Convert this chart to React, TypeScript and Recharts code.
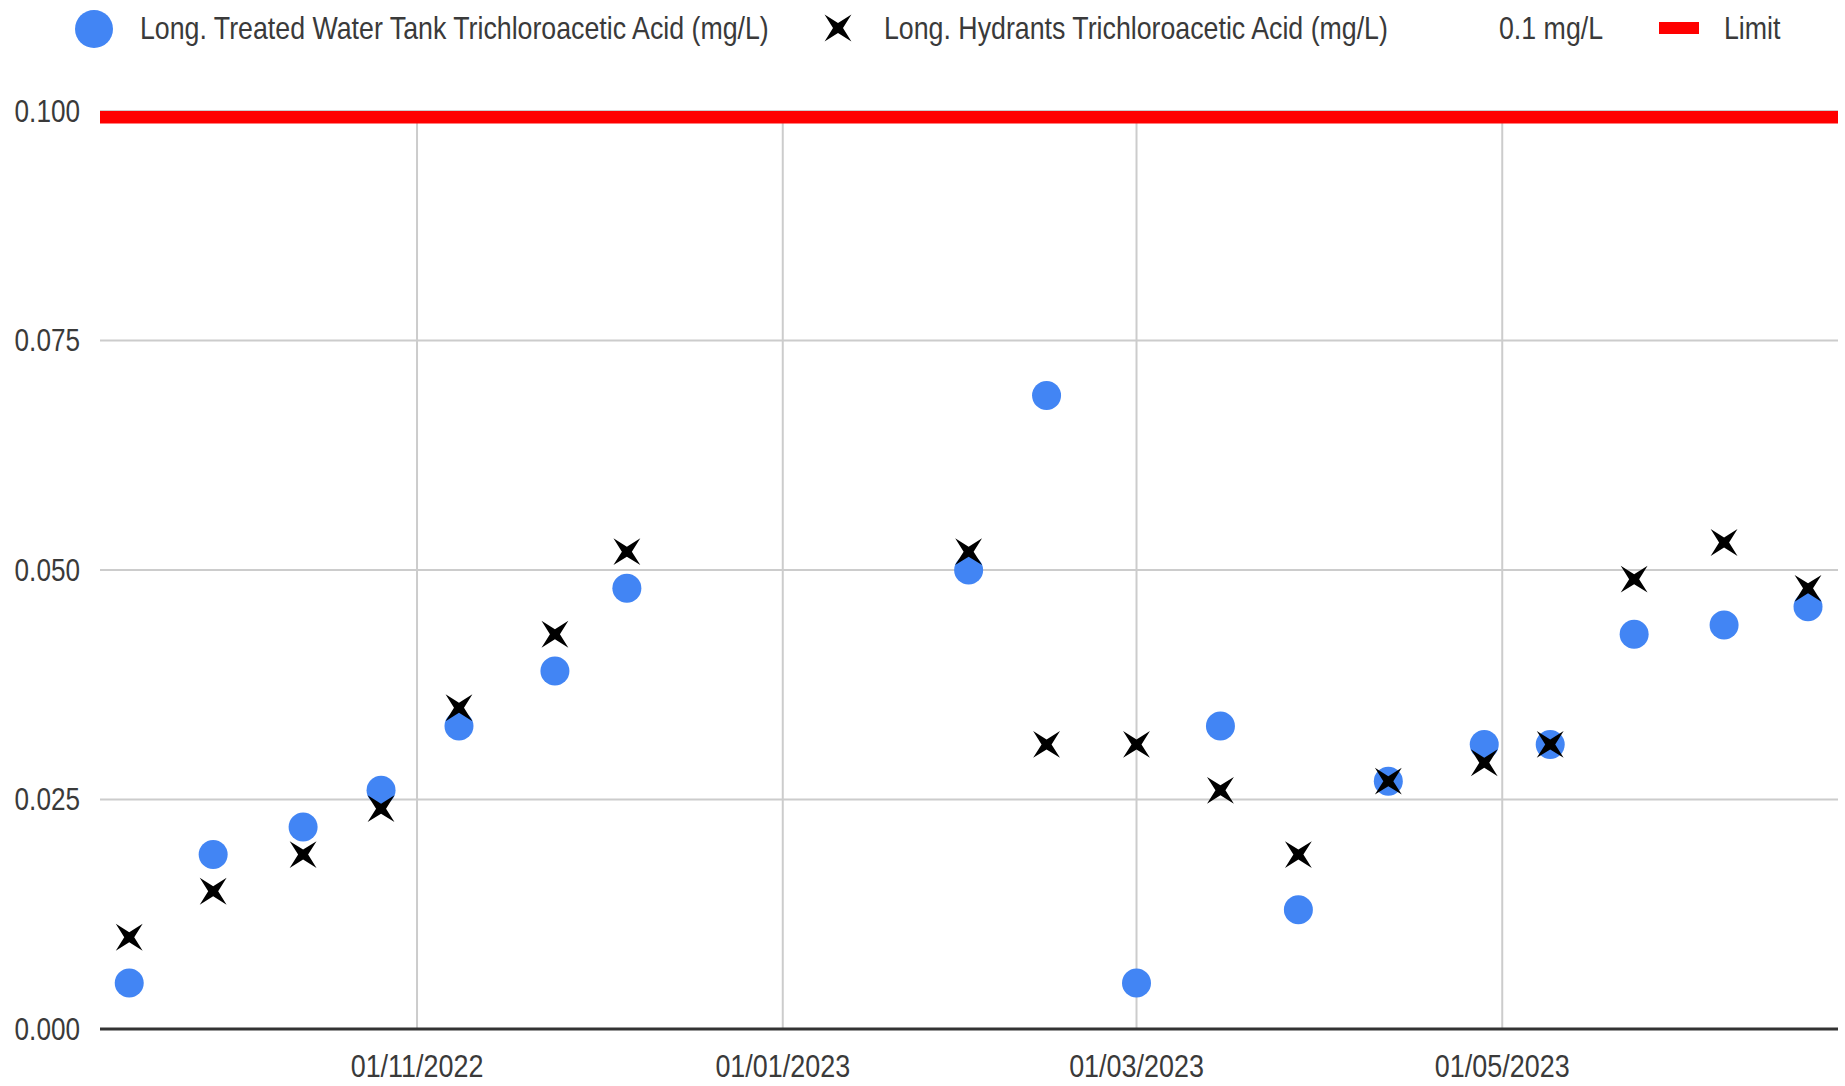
import React from 'react';
import {
  ComposedChart,
  Scatter,
  XAxis,
  YAxis,
  CartesianGrid,
  ReferenceLine,
  Legend,
} from 'recharts';

// ---- data ----
const SAMPLE_DATES = [
  '2022-09-14', '2022-09-28', '2022-10-13', '2022-10-26', '2022-11-08', '2022-11-24',
  '2022-12-06', '2023-02-01', '2023-02-14', '2023-03-01', '2023-03-15', '2023-03-28',
  '2023-04-12', '2023-04-28', '2023-05-09', '2023-05-23', '2023-06-07', '2023-06-21',
];
const TANK_TCA = [
  0.005, 0.019, 0.022, 0.026, 0.033, 0.039, 0.048, 0.05, 0.069, 0.005, 0.033, 0.013,
  0.027, 0.031, 0.031, 0.043, 0.044, 0.046,
];
const HYDRANT_TCA = [
  0.01, 0.015, 0.019, 0.024, 0.035, 0.043, 0.052, 0.052, 0.031, 0.031, 0.026, 0.019,
  0.027, 0.029, 0.031, 0.049, 0.053, 0.048,
];
const LIMIT_VALUE = 0.1;
const SERIES_NAMES = [
  'Long. Treated Water Tank Trichloroacetic Acid (mg/L)',
  'Long. Hydrants Trichloroacetic Acid (mg/L)',
  '0.1 mg/L',
  'Limit',
];
const X_TICK_DATES = ['2022-11-01', '2023-01-01', '2023-03-01', '2023-05-01'];
const Y_TICKS = [0, 0.025, 0.05, 0.075, 0.1];
const X_DOMAIN_DATES = ['2022-09-09T03:00:00Z', '2023-06-26T00:00:00Z'];

const toMs = (d: string) => new Date(d.length === 10 ? d + 'T00:00:00Z' : d).getTime();

const tankData = SAMPLE_DATES.map((d, i) => ({ t: toMs(d), v: TANK_TCA[i] }));
const hydrantData = SAMPLE_DATES.map((d, i) => ({ t: toMs(d), v: HYDRANT_TCA[i] }));
const xTicks = X_TICK_DATES.map(toMs);
const xDomain = X_DOMAIN_DATES.map(toMs);

const FONT = "'Liberation Sans', Arial, sans-serif";
const BLUE = '#4285F4';
const TEXT_COLOR = '#3a3a3a';

const fmtDate = (ms: number) => {
  const d = new Date(ms);
  const dd = String(d.getUTCDate()).padStart(2, '0');
  const mm = String(d.getUTCMonth() + 1).padStart(2, '0');
  return `${dd}/${mm}/${d.getUTCFullYear()}`;
};

const starPath = (cx: number, cy: number, R: number, r: number) => {
  const pts: string[] = [];
  for (let k = 0; k < 8; k++) {
    const ang = (Math.PI / 4) * k + Math.PI / 4;
    const rad = k % 2 === 0 ? R : r;
    pts.push(`${cx + rad * Math.cos(ang)},${cy + rad * Math.sin(ang)}`);
  }
  return 'M' + pts.join('L') + 'Z';
};

const NarrowText = ({ x, y, anchor, size, sx, children }: any) => (
  <g transform={`translate(${x},${y})`}>
    <text
      transform={`scale(${sx},1)`}
      x={0}
      y={0}
      textAnchor={anchor}
      dominantBaseline="central"
      fontFamily={FONT}
      fontSize={size}
      fill={TEXT_COLOR}
    >
      {children}
    </text>
  </g>
);

const XTick = (props: any) => {
  const { x, y, payload } = props;
  return <NarrowText x={x} y={y + 11} anchor="middle" size={31.5} sx={0.855}>{fmtDate(payload.value)}</NarrowText>;
};

const YTick = (props: any) => {
  const { x, y, payload } = props;
  return <NarrowText x={x} y={y} anchor="end" size={31.5} sx={0.83}>{Number(payload.value).toFixed(3)}</NarrowText>;
};

const CircleShape = (props: any) => {
  const { cx, cy } = props;
  if (cx == null || cy == null) return null;
  return <circle cx={cx} cy={cy} r={14.5} fill={BLUE} />;
};

const XShape = (props: any) => {
  const { cx, cy } = props;
  if (cx == null || cy == null) return null;
  return <path d={starPath(cx, cy, 19, 5)} fill="#000" />;
};

const LEG_SX = 0.836;
const renderLegend = () => (
  <svg width={1845} height={60} style={{ display: 'block' }}>
    <circle cx={94} cy={29} r={19} fill={BLUE} />
    <NarrowText x={140} y={28} anchor="start" size={32} sx={LEG_SX}>{SERIES_NAMES[0]}</NarrowText>
    <path d={starPath(838, 28, 19, 5)} fill="#000" />
    <NarrowText x={884} y={28} anchor="start" size={32} sx={LEG_SX}>{SERIES_NAMES[1]}</NarrowText>
    <NarrowText x={1499} y={28} anchor="start" size={32} sx={LEG_SX}>{SERIES_NAMES[2]}</NarrowText>
    <rect x={1659} y={22} width={40} height={12} fill="#FF0000" />
    <NarrowText x={1724} y={28} anchor="start" size={32} sx={LEG_SX}>{SERIES_NAMES[3]}</NarrowText>
  </svg>
);

export default function App() {
  return (
    <div style={{ position: 'absolute', left: 0, top: 0, width: 1845, height: 1086, background: '#fff' }}>
      <ComposedChart
        width={1845}
        height={1086}
        margin={{ top: 111, right: 7, bottom: 0, left: 0 }}
      >
        <CartesianGrid stroke="#cccccc" strokeWidth={2} verticalValues={xTicks} horizontalValues={Y_TICKS} />
        <XAxis
          type="number"
          dataKey="t"
          domain={xDomain}
          ticks={xTicks}
          height={57}
          tickSize={0}
          tickMargin={26}
          axisLine={{ stroke: '#333', strokeWidth: 3 }}
          tick={<XTick />}
          allowDataOverflow
        />
        <YAxis
          type="number"
          dataKey="v"
          domain={[0, 0.1]}
          ticks={Y_TICKS}
          width={100}
          tickSize={0}
          tickMargin={20}
          axisLine={false}
          tick={<YTick />}
          allowDataOverflow
        />
        <Legend verticalAlign="middle" layout="horizontal" wrapperStyle={{ top: 0, left: 0, width: 1845, height: 60 }} content={renderLegend} />
        <ReferenceLine y={LIMIT_VALUE} stroke="#FF0000" strokeWidth={25} ifOverflow="hidden" />
        <Scatter name={SERIES_NAMES[0]} data={tankData} dataKey="v" shape={CircleShape} isAnimationActive={false} />
        <Scatter name={SERIES_NAMES[1]} data={hydrantData} dataKey="v" shape={XShape} isAnimationActive={false} />
      </ComposedChart>
    </div>
  );
}
